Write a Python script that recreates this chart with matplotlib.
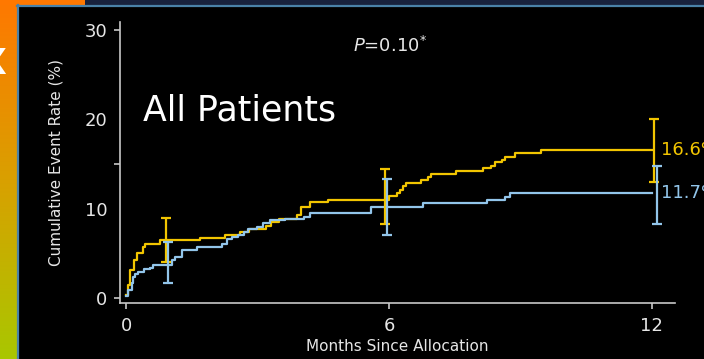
import numpy as np
import matplotlib.pyplot as plt
from matplotlib.colors import LinearSegmentedColormap
from matplotlib.patches import Rectangle

# Kaplan-Meier style cumulative event curves (months, %)
months_a = [0, 0.05, 0.09, 0.17, 0.25, 0.39, 0.43, 0.78, 1.69, 2.26, 2.6, 2.8,
            3.2, 3.3, 3.5, 3.9, 4.0, 4.2, 4.6, 6.0, 6.18, 6.25, 6.33, 6.4,
            6.74, 6.9, 6.97, 7.54, 8.15, 8.34, 8.42, 8.57, 8.65, 8.88, 9.48, 12.0]
rate_a = [0.3, 1.5, 3.1, 4.3, 5.0, 5.7, 6.1, 6.5, 6.7, 7.05, 7.4, 7.7,
          8.1, 8.5, 8.9, 9.3, 10.2, 10.7, 11.0, 11.4, 11.7, 12.1, 12.5, 12.9,
          13.2, 13.5, 13.9, 14.2, 14.5, 14.8, 15.2, 15.45, 15.8, 16.2, 16.6, 16.6]

months_b = [0, 0.05, 0.13, 0.16, 0.2, 0.27, 0.4, 0.55, 0.62, 1.04, 1.12, 1.27,
            1.61, 2.18, 2.3, 2.41, 2.56, 2.68, 2.79, 2.98, 3.13, 3.29, 3.63,
            4.05, 4.2, 5.6, 6.78, 8.23, 8.65, 8.76, 12.0]
rate_b = [0.2, 0.9, 1.7, 2.4, 2.7, 2.95, 3.2, 3.4, 3.7, 4.25, 4.6, 5.4,
          5.7, 6.1, 6.6, 6.8, 7.05, 7.4, 7.7, 7.9, 8.35, 8.7, 8.9,
          9.1, 9.55, 10.2, 10.6, 11.0, 11.35, 11.7, 11.7]

# confidence bars at 1, 6 and 12 months
ci_x_a = [0.91, 5.91, 12.05]
ci_mid_a = [6.5, 11.0, 16.6]
ci_lo_a = [4.0, 8.3, 13.0]
ci_hi_a = [9.0, 14.45, 20.0]

ci_x_b = [0.96, 5.96, 12.12]
ci_mid_b = [3.7, 10.2, 11.7]
ci_lo_b = [1.7, 7.05, 8.3]
ci_hi_b = [6.3, 13.3, 14.8]

end_label_a = "16.6%"
end_label_b = "11.7%"

x_ticks = [0, 6, 12]
y_ticks = [0, 10, 15, 20, 30]
y_ticklabels = ["0", "10", "", "20", "30"]

YELLOW = "#f2c500"
BLUE = "#92c5ea"
AXIS = "#c8c8c8"
TEXT = "#e6e6e6"

fig = plt.figure(figsize=(7.04, 3.59), dpi=100)
fig.patch.set_facecolor("black")

# slide decoration: gradient strip on the left, top band, blue frame
W, H = 704, 359
grad = fig.add_axes([0, 0, 17 / W, 1])
cmap = LinearSegmentedColormap.from_list("slide", ["#a9c700", "#d9a000", "#ff7800"])
grad.imshow(np.linspace(0, 1, 256)[:, None], cmap=cmap, aspect="auto", origin="lower")
grad.axis("off")
fig.patches.append(Rectangle((0, 1 - 5 / H), 85 / W, 5 / H, transform=fig.transFigure,
                             facecolor="#ff7800", edgecolor="none"))
fig.patches.append(Rectangle((85 / W, 1 - 5 / H), 1, 5 / H, transform=fig.transFigure,
                             facecolor="#18223d", edgecolor="none"))
fig.lines.append(plt.Line2D([17.5 / W, 17.5 / W], [0, 1 - 5 / H], transform=fig.transFigure,
                            color="#4a82a8", lw=1.6))
fig.lines.append(plt.Line2D([17 / W, 1], [1 - 6 / H, 1 - 6 / H], transform=fig.transFigure,
                            color="#4a82a8", lw=1.6))
fig.text(6 / W, 1 - 64 / H, "X", color="white", fontsize=26, fontweight="bold",
         ha="right", va="center")

ax = fig.add_axes([120 / W, 56 / H, 555 / W, 281 / H])
ax.set_facecolor("black")

ax.plot(months_a, rate_a, drawstyle="steps-post", color=YELLOW, lw=1.6)
ax.plot(months_b, rate_b, drawstyle="steps-post", color=BLUE, lw=1.6)

for xs, mid, lo, hi, c in [(ci_x_a, ci_mid_a, ci_lo_a, ci_hi_a, YELLOW),
                           (ci_x_b, ci_mid_b, ci_lo_b, ci_hi_b, BLUE)]:
    mid = np.array(mid)
    yerr = [mid - np.array(lo), np.array(hi) - mid]
    ax.errorbar(xs, mid, yerr=yerr, fmt="none", ecolor=c, elinewidth=1.6,
                capsize=3.5, capthick=1.6)

ax.text(12.2, rate_a[-1], end_label_a, color=YELLOW, fontsize=13, va="center",
        ha="left", clip_on=False)
ax.text(12.2, rate_b[-1], end_label_b, color=BLUE, fontsize=13, va="center",
        ha="left", clip_on=False)

ax.text(0.38, 21.0, "All Patients", color="white", fontsize=25, ha="left", va="center")
ax.text(6.03, 28.2, r"$\it{P}$=0.10$^{*}$", color=TEXT, fontsize=13, ha="center",
        va="center")

ax.set_xlim(-0.14, 12.53)
ax.set_ylim(-0.56, 30.9)

for side in ["top", "right"]:
    ax.spines[side].set_visible(False)
for side in ["left", "bottom"]:
    ax.spines[side].set_color(AXIS)
    ax.spines[side].set_linewidth(1.2)

ax.set_xticks(x_ticks)
ax.set_yticks(y_ticks)
ax.set_yticklabels(y_ticklabels)
# the labelled 10 and 20 carry no tick mark
for t in ax.yaxis.get_major_ticks():
    if t.get_loc() in (10, 20):
        t.tick1line.set_visible(False)

ax.tick_params(axis="x", colors=AXIS, labelcolor=TEXT, labelsize=13, length=4,
               width=1.2, pad=6)
ax.tick_params(axis="y", colors=AXIS, labelcolor=TEXT, labelsize=13, length=4,
               width=1.2, pad=5)

ax.set_xlabel("Months Since Allocation", color=TEXT, fontsize=11, labelpad=3)
ax.set_ylabel("Cumulative Event Rate (%)", color=TEXT, fontsize=11, labelpad=15)

fig.savefig("out.png", dpi=100, facecolor=fig.get_facecolor())
